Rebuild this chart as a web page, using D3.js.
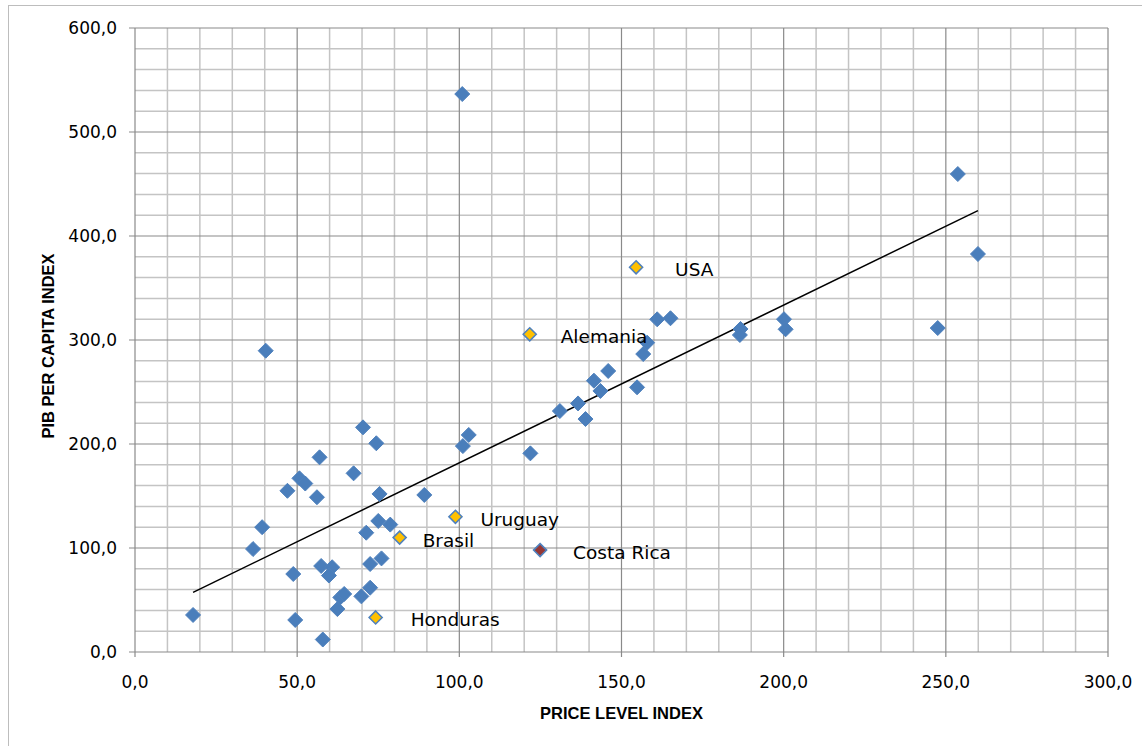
<!DOCTYPE html>
<html><head><meta charset="utf-8">
<script src="https://cdn.jsdelivr.net/npm/d3@7"></script>
<style>body{margin:0;background:#fff}svg{display:block}</style>
</head><body>
<svg id="c" width="1142" height="746"></svg>
<script>
// ---- data ----
const priceLevel = [17.9,36.4,39.2,40.3,47,50.7,52.5,56.1,56.9,48.8,49.4,57.9,57.4,60.8,59.8,62.4,63.3,64.5,67.4,69.8,70.3,71.3,72.5,72.5,74.4,75.4,75,76,78.7,89.2,101.1,102.9,100.9,121.9,131,136.6,138.9,141.5,143.5,145.9,154.8,156.7,157.9,161,165.1,186.7,186.5,200.1,200.6,247.5,253.7,259.9];
const pibIndex   = [35.6,99,120,289.7,155,167,162,148.8,187.2,75,30.8,12,82.7,81.5,73.5,41.3,52.5,55.8,171.8,53.5,216,114.7,61.8,84.6,200.7,152,126,90,122.5,151,198,208.7,536.5,191,231.7,239,224,260.9,251,270.2,254.5,286.5,297.4,319.9,320.9,310.6,304.8,320,310.3,311.5,459.6,382.7];
const namedCountries = ["USA","Alemania","Uruguay","Brasil","Honduras","Costa Rica"];
const namedPrice     = [154.5,121.7,98.8,81.6,74.2,124.9];
const namedPib       = [369.9,305.5,130,110,33.2,98];
const namedKind      = ["ref","ref","ref","ref","ref","home"];
const xTicks = [0,50,100,150,200,250,300];
const yTicks = [0,100,200,300,400,500,600];
const xTitle = "PRICE LEVEL INDEX";
const yTitle = "PIB PER CAPITA INDEX";

// ---- layout ----
const W = 1142, H = 746;
const m = {left:135, right:1108, top:28, bottom:652};
const labelDx = [39,31,25,23,35,33];
const svg = d3.select("#c");
const fmt = v => d3.format(".1f")(v).replace(".", ",");

svg.append("rect").attr("x",8.5).attr("y",5.5).attr("width",W).attr("height",H)
  .attr("fill","#fff").attr("stroke","#bdbdbd").attr("stroke-width",1);

const x = d3.scaleLinear().domain([0,300]).range([m.left,m.right]);
const y = d3.scaleLinear().domain([0,600]).range([m.bottom,m.top]);

const g = svg.append("g");
// minor grid
g.selectAll(".vx").data(d3.range(0,301,10).filter(v=>v%50)).join("line")
  .attr("x1",d=>x(d)).attr("x2",d=>x(d)).attr("y1",y(0)).attr("y2",y(600))
  .attr("stroke","#c4c4c4").attr("stroke-width",1.5);
g.selectAll(".hy").data(d3.range(0,601,20).filter(v=>v%100)).join("line")
  .attr("x1",x(0)).attr("x2",x(300)).attr("y1",d=>y(d)).attr("y2",d=>y(d))
  .attr("stroke","#c4c4c4").attr("stroke-width",1.5);
// major grid
g.selectAll(".vmx").data(xTicks).join("line")
  .attr("x1",d=>x(d)).attr("x2",d=>x(d)).attr("y1",y(0)+5).attr("y2",y(600))
  .attr("stroke","#8a8a8a").attr("stroke-width",1.2);
g.selectAll(".hmy").data(yTicks).join("line")
  .attr("x1",x(0)-6).attr("x2",x(300)).attr("y1",d=>y(d)).attr("y2",d=>y(d))
  .attr("stroke","#8a8a8a").attr("stroke-width",1.2);

// tick labels
svg.selectAll(".xl").data(xTicks).join("text")
  .attr("x",d=>x(d)).attr("y",y(0)+36).attr("text-anchor","middle")
  .attr("font-family","DejaVu Sans").attr("font-size",17).attr("fill","#000").text(fmt);
svg.selectAll(".yl").data(yTicks).join("text")
  .attr("x",x(0)-18).attr("y",d=>y(d)+6).attr("text-anchor","end")
  .attr("font-family","DejaVu Sans").attr("font-size",17).attr("fill","#000").text(fmt);

// axis titles
svg.append("text").attr("x",(m.left+m.right)/2).attr("y",719).attr("text-anchor","middle")
  .attr("font-family","Liberation Sans").attr("font-weight","bold").attr("font-size",16.5).text(xTitle);
svg.append("text").attr("transform",`translate(54,${(m.top+m.bottom)/2+6}) rotate(-90)`)
  .attr("text-anchor","middle")
  .attr("font-family","Liberation Sans").attr("font-weight","bold").attr("font-size",16.5).text(yTitle);

// trend line (least squares over all countries)
const allX = priceLevel.concat(namedPrice), allY = pibIndex.concat(namedPib);
const mx = d3.mean(allX), my = d3.mean(allY);
const slope = d3.sum(allX.map((v,i)=>(v-mx)*(allY[i]-my))) / d3.sum(allX.map(v=>(v-mx)*(v-mx)));
const icpt = my - slope*mx;
const [x0,x1] = d3.extent(allX);
svg.append("line").attr("x1",x(x0)).attr("y1",y(icpt+slope*x0))
  .attr("x2",x(x1)).attr("y2",y(icpt+slope*x1)).attr("stroke","#000").attr("stroke-width",1.5);

const diamond = r => `M0,${-r}L${r},0L0,${r}L${-r},0Z`;
svg.selectAll(".pt").data(priceLevel.map((v,i)=>[v,pibIndex[i]])).join("path")
  .attr("d",diamond(7.5)).attr("transform",d=>`translate(${x(d[0])},${y(d[1])})`)
  .attr("fill","#4a7ebb").attr("stroke","#4f81bd").attr("stroke-width",1);

svg.selectAll(".np").data(namedCountries.map((n,i)=>i)).join("path")
  .attr("d",diamond(6.5)).attr("transform",i=>`translate(${x(namedPrice[i])},${y(namedPib[i])})`)
  .attr("fill",i=>namedKind[i]==="home"?"#953735":"#ffc000").attr("stroke","#4f81bd").attr("stroke-width",1.6);

svg.selectAll(".nl").data(namedCountries.map((n,i)=>i)).join("text")
  .attr("x",i=>x(namedPrice[i])+labelDx[i]).attr("y",i=>y(namedPib[i])+9)
  .attr("font-family","DejaVu Sans").attr("font-size",18.5).attr("fill","#000")
  .text(i=>namedCountries[i]);
</script>
</body></html>
